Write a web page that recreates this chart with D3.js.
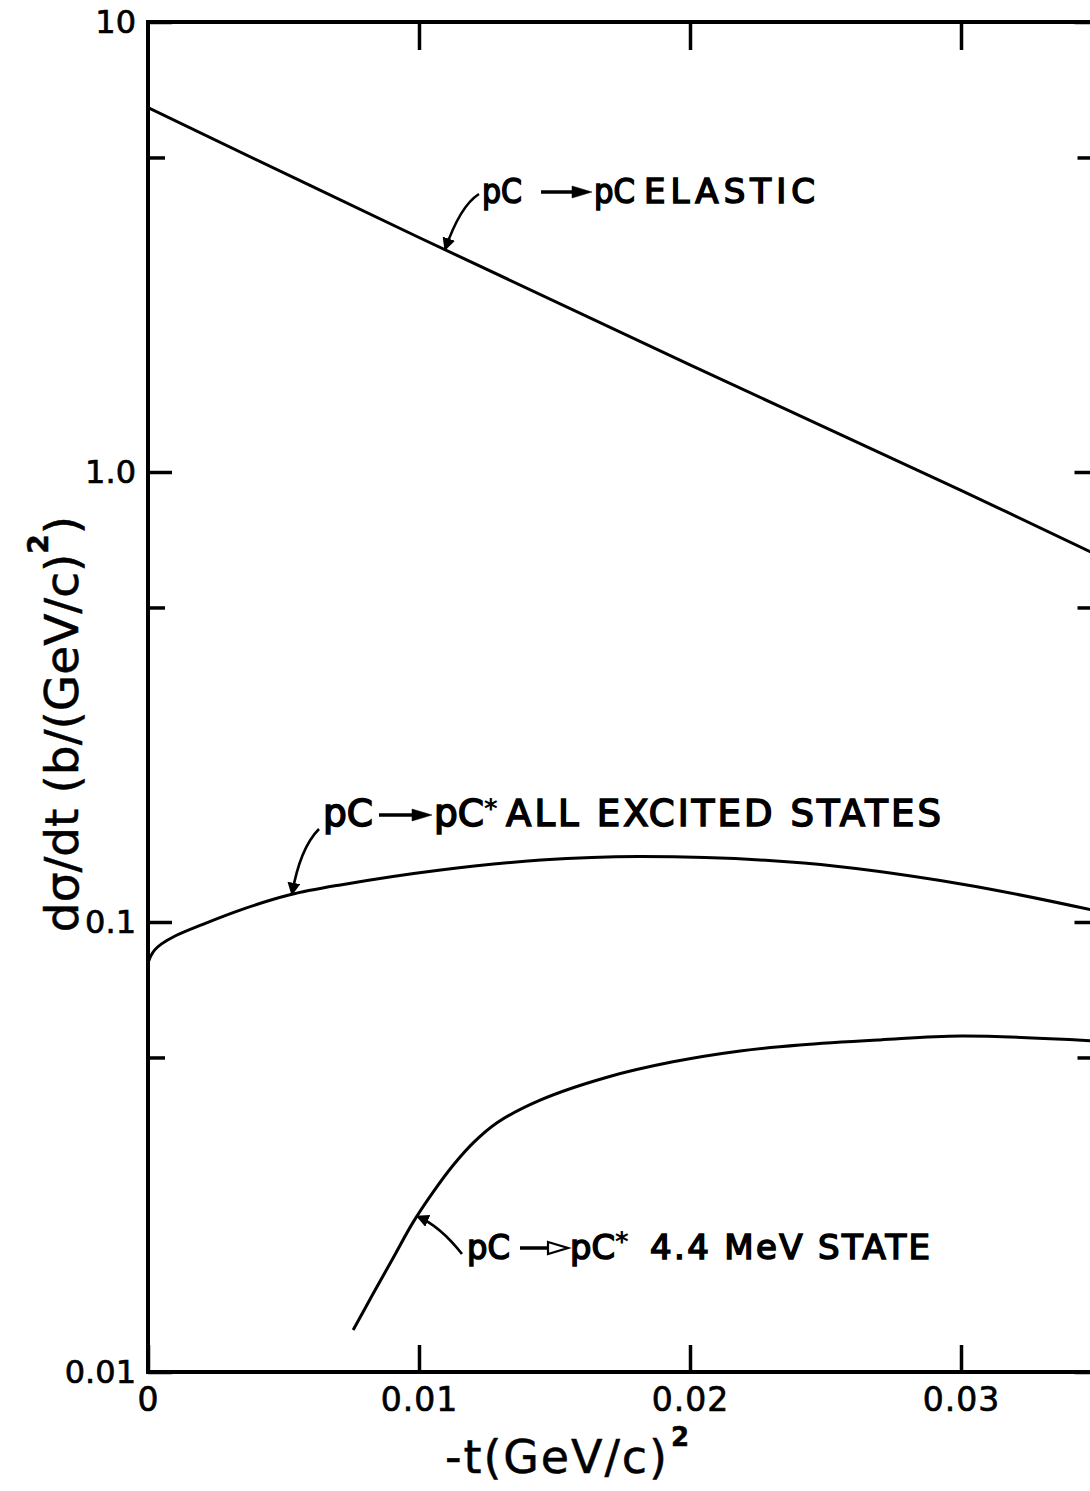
<!DOCTYPE html>
<html>
<head>
<meta charset="utf-8">
<script src="https://cdnjs.cloudflare.com/ajax/libs/d3/7.8.5/d3.min.js"></script>
<style>
  body { margin: 0; background: #fff; }
  text { font-family: "DejaVu Sans", sans-serif; fill: #000; }
</style>
</head>
<body>
<div id="chart"></div>
<script>
// axis ticks
var xTicks = [0, 0.01, 0.02, 0.03];
var xTickLabels = ["0", "0.01", "0.02", "0.03"];
var yTicks = [10, 1, 0.1, 0.01];
var yTickLabels = ["10", "1.0", "0.1", "0.01"];
var yMinorTicks = [5, 0.5, 0.05];

// pC -> pC elastic
var elasticT = [0, 0.01, 0.02, 0.03, 0.035];
var elasticSigma = [6.45, 3.32, 1.73, 0.91, 0.655];

// pC -> pC* all excited states
var excitedT = [0, 0.0001, 0.00025, 0.0005, 0.001, 0.002, 0.0034, 0.0052, 0.0071, 0.0108, 0.0145, 0.0182, 0.0242, 0.03, 0.035];
var excitedSigma = [0.0811, 0.0840, 0.0867, 0.0894, 0.0931, 0.0987, 0.1063, 0.1148, 0.1209, 0.1305, 0.1373, 0.1398, 0.1352, 0.1215, 0.1058];

// pC -> pC* 4.4 MeV state
var stateT = [0.00757, 0.0083, 0.00904, 0.00978, 0.01052, 0.01126, 0.012, 0.01288, 0.01447, 0.01694, 0.01937, 0.02185, 0.02406, 0.02701, 0.03, 0.035];
var stateSigma = [0.0124, 0.0149, 0.0179, 0.0215, 0.0251, 0.0288, 0.0323, 0.0358, 0.0402, 0.0452, 0.0489, 0.0517, 0.0533, 0.0547, 0.0558, 0.0544];

var width = 1090, height = 1491;
var plotL = 148, plotT = 22, plotR = 1096.5, plotB = 1372;

var svg = d3.select("#chart")
  .append("svg")
  .attr("width", width)
  .attr("height", height);

var x = d3.scaleLinear().domain([0, 0.035]).range([plotL, plotR]);
var y = d3.scaleLog().domain([0.01, 10]).range([plotB, plotT]);

// marker for the pointer arrows, clip for the curves
var defs = svg.append("defs");
defs.append("marker")
  .attr("id", "head")
  .attr("viewBox", "0 0 10 10")
  .attr("refX", 9).attr("refY", 5)
  .attr("markerWidth", 5).attr("markerHeight", 5)
  .attr("markerUnits", "strokeWidth")
  .attr("orient", "auto")
  .append("path").attr("d", "M0,0 L10,5 L0,10 z").attr("fill", "#000");
defs.append("clipPath").attr("id", "plot")
  .append("rect")
  .attr("x", plotL).attr("y", plotT)
  .attr("width", plotR - plotL).attr("height", plotB - plotT);

function styleAxis(g, fontSize, spacing){
  g.select(".domain").remove();
  g.selectAll(".tick line").attr("stroke", "#000").attr("stroke-width", 3.5);
  g.selectAll(".tick text")
    .attr("font-family", "DejaVu Sans")
    .attr("font-size", fontSize)
    .attr("letter-spacing", spacing)
    .attr("fill", "#000")
    .attr("stroke", "#000")
    .attr("stroke-width", 0.7);
}

// left axis with labels
svg.append("g")
  .attr("transform", "translate(" + plotL + ",0)")
  .call(d3.axisLeft(y).tickValues(yTicks).tickSize(-24).tickPadding(12)
    .tickFormat(function(d, i){ return yTickLabels[i]; }))
  .call(styleAxis, 32, 0);
svg.append("g")
  .attr("transform", "translate(" + plotL + ",0)")
  .call(d3.axisLeft(y).tickValues(yMinorTicks).tickSize(-17).tickFormat(""))
  .call(styleAxis, 32, 0);

// right axis, ticks only
svg.append("g")
  .attr("transform", "translate(" + plotR + ",0)")
  .call(d3.axisRight(y).tickValues(yTicks).tickSize(-22).tickFormat(""))
  .call(styleAxis, 32, 0);
svg.append("g")
  .attr("transform", "translate(" + plotR + ",0)")
  .call(d3.axisRight(y).tickValues(yMinorTicks).tickSize(-19).tickFormat(""))
  .call(styleAxis, 32, 0);

// bottom axis with labels
svg.append("g")
  .attr("transform", "translate(0," + plotB + ")")
  .call(d3.axisBottom(x).tickValues(xTicks).tickSize(-27).tickPadding(16)
    .tickFormat(function(d, i){ return xTickLabels[i]; }))
  .call(styleAxis, 33, 1);

// top axis, ticks only
svg.append("g")
  .attr("transform", "translate(0," + plotT + ")")
  .call(d3.axisTop(x).tickValues(xTicks.slice(1)).tickSize(-28).tickFormat(""))
  .call(styleAxis, 33, 1);

// frame
svg.append("rect")
  .attr("x", plotL).attr("y", plotT)
  .attr("width", plotR - plotL).attr("height", plotB - plotT)
  .attr("fill", "none").attr("stroke", "#000").attr("stroke-width", 4);

// curves
var line = d3.line()
  .x(function(d){ return x(d[0]); })
  .y(function(d){ return y(d[1]); })
  .curve(d3.curveCatmullRom.alpha(0.5));

var series = [
  { t: elasticT, s: elasticSigma },
  { t: excitedT, s: excitedSigma },
  { t: stateT, s: stateSigma }
];

svg.append("g").attr("clip-path", "url(#plot)")
  .selectAll("path")
  .data(series)
  .enter().append("path")
  .attr("d", function(d){ return line(d3.zip(d.t, d.s)); })
  .attr("fill", "none")
  .attr("stroke", "#000")
  .attr("stroke-width", 3);

// value of a series at t, interpolated in log space
function sigmaAt(ser, t){
  var i = d3.bisectRight(ser.t, t) - 1;
  i = Math.max(0, Math.min(i, ser.t.length - 2));
  var f = (t - ser.t[i]) / (ser.t[i + 1] - ser.t[i]);
  return Math.exp(Math.log(ser.s[i]) * (1 - f) + Math.log(ser.s[i + 1]) * f);
}

// curve labels
var notes = [
  { ser: series[0], tipT: 0.01096, lx: 482, ly: 203, a: "pC", aw: 40, ax1: 541, ax2: 592,
    b: "pC", bx: 594, bw: 41, star: false, c: "ELASTIC", cx: 644, cw: 171, hollow: false,
    tail: [479, 194], ctrl: [460, 206], size: 34 },
  { ser: series[1], tipT: 0.00531, lx: 323, ly: 826, a: "pC", aw: 50, ax1: 379, ax2: 432,
    b: "pC", bx: 434, bw: 50, star: true, c: "ALL EXCITED STATES", cx: 506, cw: 435, hollow: false,
    tail: [319, 829], ctrl: [300, 848], size: 37 },
  { ser: series[2], tipT: 0.00993, lx: 467, ly: 1259, a: "pC", aw: 43, ax1: 520, ax2: 568,
    b: "pC", bx: 570, bw: 45, star: true, c: "4.4 MeV STATE", cx: 650, cw: 280, hollow: true,
    tail: [462, 1254], ctrl: [440, 1226], size: 34 }
];

function label(g, txt, lx, ly, size, w, adj){
  return g.append("text").attr("x", lx).attr("y", ly)
    .attr("font-size", size)
    .attr("stroke", "#000").attr("stroke-width", 1.6)
    .attr("textLength", w).attr("lengthAdjust", adj)
    .text(txt);
}

var ng = svg.append("g");
notes.forEach(function(n){
  var g = ng.append("g");
  var tip = [x(n.tipT), y(sigmaAt(n.ser, n.tipT))];
  g.append("path")
    .attr("d", "M" + n.tail + " Q" + n.ctrl + " " + tip)
    .attr("fill", "none").attr("stroke", "#000").attr("stroke-width", 2.6)
    .attr("marker-end", "url(#head)");

  label(g, n.a, n.lx, n.ly, n.size, n.aw, "spacingAndGlyphs");

  // reaction arrow
  var ay = n.ly - 11;
  g.append("line").attr("x1", n.ax1).attr("x2", n.ax2 - 15)
    .attr("y1", ay).attr("y2", ay).attr("stroke", "#000").attr("stroke-width", 3.5);
  g.append("path")
    .attr("d", "M" + (n.ax2 - 20) + "," + (ay - 6) + " L" + n.ax2 + "," + ay + " L" + (n.ax2 - 20) + "," + (ay + 6) + " z")
    .attr("fill", n.hollow ? "#fff" : "#000")
    .attr("stroke", "#000").attr("stroke-width", n.hollow ? 2.2 : 0.5);

  label(g, n.b, n.bx, n.ly, n.size, n.bw, "spacingAndGlyphs");
  if (n.star) {
    g.append("text").attr("x", n.bx + n.bw).attr("y", n.ly - 8)
      .attr("font-size", 26).attr("font-weight", "bold")
      .text("*");
  }
  label(g, n.c, n.cx, n.ly, n.size, n.cw, "spacing");
});

// axis titles
var xt = svg.append("text")
  .attr("x", 445).attr("y", 1473)
  .attr("font-size", 46)
  .attr("stroke", "#000").attr("stroke-width", 0.5);
xt.append("tspan").attr("textLength", 222).attr("lengthAdjust", "spacing").text("-t(GeV/c)");
xt.append("tspan").attr("dy", -27).attr("dx", 2).attr("font-size", 26).attr("font-weight", "bold").text("2");

var yt = svg.append("text")
  .attr("transform", "translate(78,724) rotate(-90)")
  .attr("text-anchor", "middle")
  .attr("font-size", 47)
  .attr("stroke", "#000").attr("stroke-width", 0.5);
yt.append("tspan").text("dσ/dt (b/(GeV/c)");
yt.append("tspan").attr("dy", -30).attr("font-size", 28).attr("font-weight", "bold").text("2");
yt.append("tspan").attr("dy", 30).text(")");
</script>
</body>
</html>
